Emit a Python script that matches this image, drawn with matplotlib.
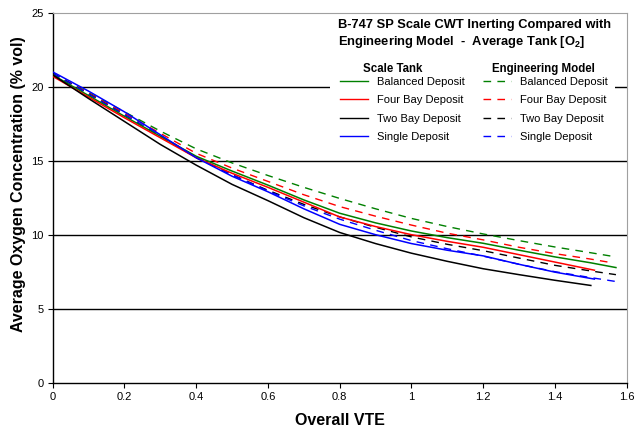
"""
B-747 SP scale tank CWT inerting vs engineering model, average tank O2.
"""
import matplotlib
matplotlib.use('Agg')
import matplotlib.pyplot as plt
from matplotlib.patches import Rectangle
from matplotlib.ticker import MultipleLocator, FuncFormatter

plt.rcParams['font.family'] = ['Liberation Sans', 'DejaVu Sans']
plt.rcParams['mathtext.fontset'] = 'custom'
plt.rcParams['mathtext.rm'] = 'Liberation Sans'
plt.rcParams['mathtext.bf'] = 'Liberation Sans:bold'

# Overall VTE sample points; last point of each series is its own end
vte = [0.0, 0.1, 0.2, 0.3, 0.4, 0.5, 0.6, 0.7, 0.8, 0.9, 1.0, 1.1, 1.2, 1.3, 1.4, 1.5]

# Scale tank measurements, average [O2] % vol
scale_balanced = [20.8, 19.4, 18.0, 16.65, 15.3, 14.3, 13.35, 12.35, 11.45, 10.8, 10.25, 9.8, 9.42, 8.95, 8.5, 8.1, 7.78]
scale_fourbay = [20.7, 19.3, 17.9, 16.55, 15.2, 14.15, 13.2, 12.2, 11.2, 10.55, 10.0, 9.55, 9.15, 8.65, 8.15, 7.6]
scale_twobay = [20.8, 19.2, 17.65, 16.1, 14.7, 13.4, 12.3, 11.15, 10.15, 9.4, 8.75, 8.2, 7.7, 7.3, 6.92, 6.57]
scale_single = [21.0, 19.7, 18.3, 16.75, 15.2, 13.95, 12.9, 11.75, 10.7, 10.0, 9.4, 8.95, 8.57, 8.0, 7.47, 7.0]
scale_end_x = [1.57, 1.51, 1.5, 1.51]

# Engineering model predictions
model_balanced = [20.9, 19.6, 18.3, 17.0, 15.8, 14.85, 14.0, 13.2, 12.45, 11.75, 11.1, 10.55, 10.05, 9.6, 9.17, 8.78, 8.5]
model_fourbay = [20.9, 19.55, 18.2, 16.85, 15.5, 14.5, 13.6, 12.7, 11.9, 11.25, 10.65, 10.1, 9.65, 9.15, 8.72, 8.35, 8.1]
model_twobay = [20.9, 19.5, 18.1, 16.65, 15.2, 14.05, 13.0, 12.05, 11.2, 10.5, 9.85, 9.35, 8.92, 8.42, 7.93, 7.55, 7.3]
model_single = [20.9, 19.5, 18.1, 16.7, 15.25, 14.05, 12.95, 11.95, 11.05, 10.3, 9.6, 9.05, 8.55, 8.0, 7.5, 7.1, 6.8]
model_end_x = [1.57, 1.56, 1.57, 1.58]

labels = ['Balanced Deposit', 'Four Bay Deposit', 'Two Bay Deposit', 'Single Deposit']
colors = ['#008000', '#FF0000', '#000000', '#0000FF']


def xs_for(ys, end_x):
    return vte[:len(ys) - 1] + [end_x]


W, H = 640, 428
fig = plt.figure(figsize=(6.4, 4.28), dpi=100)
ax = fig.add_axes([52.7 / W, 1 - 382.7 / H, 574 / W, 370 / H])

for y in [5, 10, 15, 20]:
    ax.axhline(y, color='black', linewidth=1.0, zorder=1)

# white box behind the title/legend block
ax.add_patch(Rectangle((0.483, 0.63), 0.497, 0.366, transform=ax.transAxes,
                       facecolor='white', edgecolor='none', zorder=1.5))

scale = [scale_balanced, scale_fourbay, scale_twobay, scale_single]
model = [model_balanced, model_fourbay, model_twobay, model_single]

model_handles = []
for ys, ex, c, lab in zip(model, model_end_x, colors, labels):
    h, = ax.plot(xs_for(ys, ex), ys, color=c, linewidth=1.0,
                 dashes=(5.5, 4.5), label=lab, zorder=2)
    model_handles.append(h)

scale_handles = []
for ys, ex, c, lab in zip(scale, scale_end_x, colors, labels):
    h, = ax.plot(xs_for(ys, ex), ys, color=c, linewidth=1.1, label=lab, zorder=3)
    scale_handles.append(h)

ax.set_xlim(0, 1.6)
ax.set_ylim(0, 25)
ax.xaxis.set_major_locator(MultipleLocator(0.2))
ax.yaxis.set_major_locator(MultipleLocator(5))
ax.xaxis.set_major_formatter(FuncFormatter(lambda v, p: f'{v:g}'))
ax.tick_params(axis='both', direction='out', length=3.5, width=0.8,
               labelsize=8, pad=3)

for side in ['top', 'right']:
    ax.spines[side].set_color('#a0a0a0')
for side in ['left', 'bottom']:
    ax.spines[side].set_color('black')
    ax.spines[side].set_linewidth(1.0)

ax.set_xlabel('Overall VTE', fontsize=11.5, fontweight='bold')
ax.xaxis.set_label_coords(0.5, -0.083)
ax.set_ylabel('Average Oxygen Concentration (% vol)', fontsize=11.5,
              fontweight='bold')
ax.yaxis.set_label_coords(-0.046, 0.538)

fig.text(338 / W, 1 - 19 / H,
         'B-747 SP Scale CWT Inerting Compared with\n'
         'Engineering Model  -  Average Tank [O$_\\mathbf{2}$]',
         fontsize=9.25, fontweight='bold', va='top', ha='left', linespacing=1.25)

# legend column headers
fig.text(393 / W, 1 - 69 / H, 'Scale Tank', fontsize=8.3, fontweight='bold',
         ha='center', va='center')
fig.text(543 / W, 1 - 69 / H, 'Engineering Model', fontsize=8.3,
         fontweight='bold', ha='center', va='center')

leg_kw = dict(frameon=False, fontsize=8, handlelength=2.5, handletextpad=0.8,
              labelspacing=0.75, borderpad=0, borderaxespad=0, loc='upper left')
leg1 = ax.legend(handles=scale_handles, bbox_to_anchor=(340 / W, 1 - 77 / H),
                 bbox_transform=fig.transFigure, **leg_kw)
ax.add_artist(leg1)
leg2 = ax.legend(handles=model_handles, bbox_to_anchor=(483 / W, 1 - 77 / H),
                 bbox_transform=fig.transFigure, **leg_kw)
for l in [leg1, leg2]:
    l.set_zorder(4)
    for line in l.get_lines():
        line.set_linewidth(1.0)

fig.savefig('out.png', dpi=100)
